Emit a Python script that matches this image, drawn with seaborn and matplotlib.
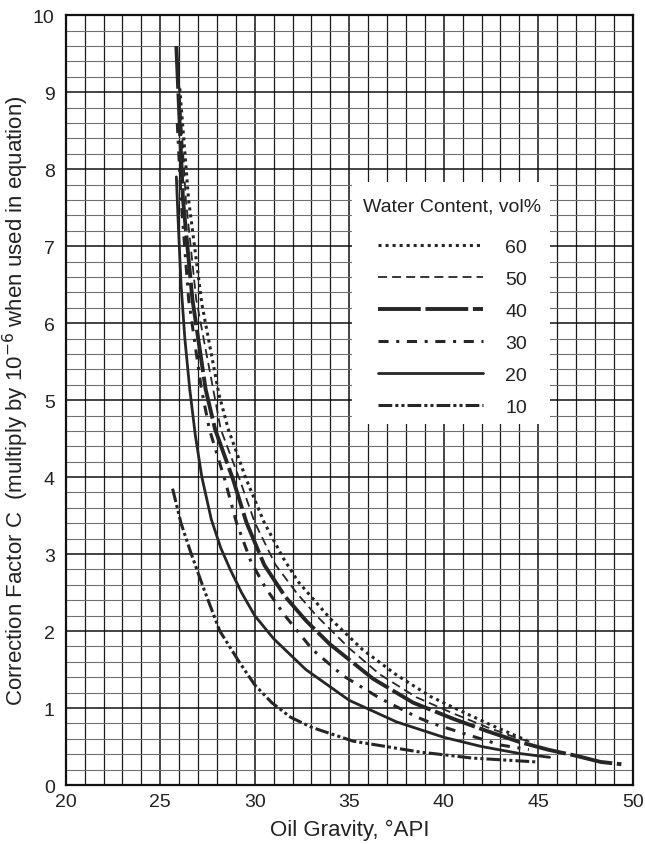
import matplotlib
matplotlib.use("Agg")
import matplotlib.pyplot as plt
from matplotlib.patches import Rectangle
import numpy as np
import pandas as pd
import seaborn as sns

# Correction factor C versus oil gravity, one curve per water content (vol%)
api_60 = [26.03, 26.5, 27.2, 28.1, 28.6, 29.55, 30.5, 31.5, 32.3, 34.0, 35.7, 37.5, 39.3, 41.0, 42.5, 44.0, 44.4]
c_60 = [9.05, 7.6, 6.25, 5.08, 4.62, 3.97, 3.41, 2.95, 2.64, 2.16, 1.76, 1.43, 1.15, 0.95, 0.78, 0.62, 0.58]

api_50 = [25.95, 26.35, 26.9, 27.8, 28.2, 29.2, 30.0, 31.1, 32.2, 33.26, 35.03, 36.6, 38.55, 40.5, 42.3, 44.0, 44.8]
c_50 = [9.3, 7.61, 6.31, 5.14, 4.62, 3.97, 3.41, 2.86, 2.5, 2.2, 1.77, 1.44, 1.14, 0.93, 0.75, 0.60, 0.55]

api_40 = [25.85, 26.2, 26.7, 27.4, 27.9, 28.85, 29.56, 30.5, 31.6, 32.73, 33.97, 36.26, 38.38, 40.5, 42.3, 44.0, 45.5, 47.0, 48.3, 49.4]
c_40 = [9.6, 7.61, 6.31, 5.14, 4.62, 3.97, 3.41, 2.86, 2.45, 2.13, 1.83, 1.38, 1.07, 0.86, 0.70, 0.56, 0.46, 0.38, 0.30, 0.27]

api_30 = [25.9, 26.1, 26.5, 27.18, 27.6, 28.41, 29.03, 29.8, 30.6, 31.6, 33.05, 34.67, 36.6, 38.6, 39.4, 41.7, 43.0, 44.5]
c_30 = [8.6, 7.61, 6.31, 5.14, 4.62, 3.97, 3.41, 2.9, 2.55, 2.2, 1.76, 1.42, 1.13, 0.88, 0.80, 0.62, 0.52, 0.46]

api_20 = [25.85, 25.95, 26.1, 26.3, 26.56, 26.85, 27.2, 27.7, 28.2, 28.7, 29.3, 30.0, 31.0, 32.7, 35.0, 37.5, 40.0, 42.0, 44.0, 45.6]
c_20 = [7.9, 7.3, 6.5, 5.8, 5.14, 4.55, 4.0, 3.45, 3.08, 2.8, 2.5, 2.2, 1.9, 1.5, 1.1, 0.82, 0.62, 0.50, 0.41, 0.36]

api_10 = [25.65, 26.1, 26.6, 27.3, 28.15, 29.2, 30.0, 30.9, 31.9, 33.0, 35.2, 38.7, 41.5, 44.9]
c_10 = [3.85, 3.4, 3.03, 2.55, 2.0, 1.59, 1.3, 1.07, 0.88, 0.75, 0.57, 0.43, 0.35, 0.30]

water_levels = ["60", "50", "40", "30", "20", "10"]
x_ticks = [20, 25, 30, 35, 40, 45, 50]
y_ticks = [0, 1, 2, 3, 4, 5, 6, 7, 8, 9, 10]

series = {
    "60": (api_60, c_60),
    "50": (api_50, c_50),
    "40": (api_40, c_40),
    "30": (api_30, c_30),
    "20": (api_20, c_20),
    "10": (api_10, c_10),
}

# line look for each water content
styles = {
    "60": dict(lw=2.2, ls=(0, (1.0, 1.3))),
    "50": dict(lw=1.3, ls=(0, (5.0, 2.8))),
    "40": dict(lw=2.8, ls=(0, (11.0, 1.2))),
    "30": dict(lw=2.2, ls=(0, (3.3, 2.5, 1.0, 2.5))),
    "20": dict(lw=2.0, ls="-"),
    "10": dict(lw=2.2, ls=(0, (4.5, 1.0, 1.0, 1.0, 1.0, 1.0))),
}

sns.set_style("white")
plt.rcParams["font.family"] = ["Liberation Sans", "DejaVu Sans"]

FS = 14
LABEL_FS = 16

fig = plt.figure(figsize=(6.45, 8.45), dpi=100)
ax = fig.add_axes([0.102, 0.0698, 0.879, 0.911])

line_color = "#262626"
for key in water_levels:
    xs, ys = series[key]
    df = pd.DataFrame({"api": xs, "c": ys})
    st = styles[key]
    sns.lineplot(data=df, x="api", y="c", ax=ax, color=line_color,
                 linewidth=st["lw"], linestyle=st["ls"], label=key,
                 zorder=3, sort=True, estimator=None)
for ln in ax.get_lines():
    ln.set_dash_capstyle("butt")

ax.set_xlim(20, 50)
ax.set_ylim(0, 10)
ax.set_xticks(x_ticks)
ax.set_yticks(y_ticks)
ax.set_xticks(np.arange(20, 51, 1), minor=True)
ax.set_yticks(np.arange(0, 10.01, 0.2), minor=True)

# graph-paper grid
ax.grid(which="major", axis="both", color="#111111", linewidth=1.1, zorder=0)
ax.grid(which="minor", axis="x", color="#1a1a1a", linewidth=0.9, zorder=0)
ax.grid(which="minor", axis="y", color="#707070", linewidth=0.8, zorder=0)
ax.set_axisbelow(True)

ax.tick_params(which="both", length=0)
ax.tick_params(axis="x", labelsize=FS, pad=6, colors="#222222")
ax.tick_params(axis="y", labelsize=FS, pad=8, colors="#222222")

for sp in ax.spines.values():
    sp.set_color("#111111")
    sp.set_linewidth(1.6)

ax.set_xlabel("Oil Gravity, °API", fontsize=LABEL_FS, color="#222222", labelpad=6)
ax.set_ylabel("Correction Factor C  (multiply by 10$^{-6}$ when used in equation)",
              fontsize=LABEL_FS, color="#222222")
ax.yaxis.set_label_coords(-0.062, 0.5)

# white panel behind the legend
ax.add_patch(Rectangle((0.504, 0.469), 0.35, 0.314, transform=ax.transAxes,
                       facecolor="white", edgecolor="none", zorder=2))

handles, labels = ax.get_legend_handles_labels()
leg = ax.legend(handles, labels, title="Water Content, vol%",
                loc="upper left", bbox_to_anchor=(0.518, 0.768),
                frameon=False, fontsize=FS, title_fontsize=FS,
                handlelength=5.4, handletextpad=1.15, labelspacing=0.74,
                borderaxespad=0.0, borderpad=0.2)
leg.set_zorder(4)
for t in leg.get_texts():
    t.set_color("#222222")
leg.get_title().set_color("#222222")
leg._legend_box.sep = 17

fig.savefig("out.png", dpi=100)
